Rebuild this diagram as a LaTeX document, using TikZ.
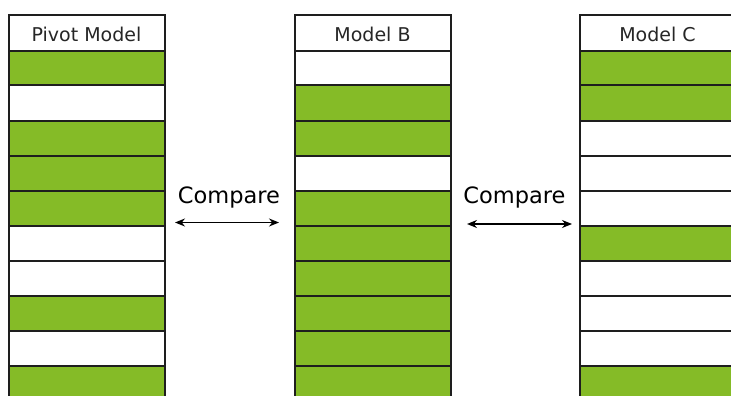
\documentclass[tikz,border=0pt]{standalone}
\usepackage{fontspec}
\setmainfont{DejaVu Sans}
\usetikzlibrary{arrows.meta}
\definecolor{barGreen}{RGB}{133,187,39}
\definecolor{frame}{RGB}{30,30,30}
\begin{document}
\begin{tikzpicture}[x=1pt,y=-1pt,
  cell/.style={draw=frame, line width=2pt, minimum width=156pt, minimum height=35pt,
    inner sep=0pt, outer sep=0pt, anchor=north west},
  on/.style={cell, fill=barGreen},
  off/.style={cell, fill=white},
  head/.style={cell, fill=white, minimum height=35.5pt, text height=17.5pt, text depth=0pt,
    font=\fontsize{19}{21}\selectfont, text=black!85},
  link/.style={{Stealth[length=10pt,width=8pt]}-{Stealth[length=10pt,width=8pt]}, line width=1.3pt},
  cmp/.style={font=\fontsize{22.5}{25}\selectfont, anchor=base, inner sep=0pt}]
\useasboundingbox (0,0) rectangle (731,396);

% three stacked models, green = present, white = absent
\foreach \s [count=\i] in {on,off,on,on,on,off,off,on,off,on}
  \node[\s] (p\i) at (8.5, 15.5+35*\i) {};
\foreach \s [count=\i] in {off,on,on,off,on,on,on,on,on,on}
  \node[\s] (b\i) at (294.5, 15.5+35*\i) {};
\foreach \s [count=\i] in {on,on,off,off,off,on,off,off,off,on}
  \node[\s] (c\i) at (579.5, 15.5+35*\i) {};

\node[head] (ph) at (8.5,15.5) {Pivot Model};
\node[head] (bh) at (294.5,15.5) {Model B};
\node[head] (ch) at (579.5,15.5) {Model C};

% comparison labels and arrows
\node[cmp] (cmp1) at (229,203) {Compare};
\node[cmp] (cmp2) at (514.5,203) {Compare};
\coordinate (a1l) at (175,222.5);
\coordinate (a1r) at (279,222.5);
\coordinate (a2l) at (467,224);
\coordinate (a2r) at (572,224);
\draw[link] (a1l) -- (a1r);
\draw[link] (a2l) -- (a2r);
\end{tikzpicture}
\end{document}
